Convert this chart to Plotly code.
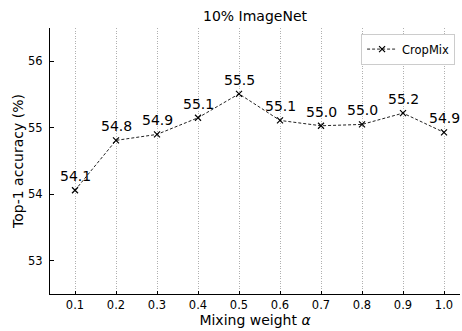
import plotly.graph_objects as go

alphas = [0.1, 0.2, 0.3, 0.4, 0.5, 0.6, 0.7, 0.8, 0.9, 1.0]
accuracy = [54.06, 54.81, 54.90, 55.15, 55.51, 55.11, 55.03, 55.05, 55.22, 54.93]
labels = ["54.1", "54.8", "54.9", "55.1", "55.5", "55.1", "55.0", "55.0", "55.2", "54.9"]
x_ticks = [0.1, 0.2, 0.3, 0.4, 0.5, 0.6, 0.7, 0.8, 0.9, 1.0]
x_tick_text = ["0.1", "0.2", "0.3", "0.4", "0.5", "0.6", "0.7", "0.8", "0.9", "1.0"]
y_ticks = [53, 54, 55, 56]

FONT = "DejaVu Sans"

fig = go.Figure()
fig.add_trace(go.Scatter(
    x=alphas, y=accuracy, mode="lines+markers", name="CropMix",
    line=dict(color="#222222", width=1, dash="3px,2px"),
    marker=dict(symbol="x-thin-open", size=6, color="black",
                line=dict(color="black", width=1.2)),
))

for xv, yv, t in zip(alphas, accuracy, labels):
    fig.add_annotation(x=xv, y=yv, text=t, showarrow=False, yanchor="bottom",
                       yshift=4, font=dict(family=FONT, size=14, color="black"))

fig.update_layout(
    width=462, height=331,
    margin=dict(l=50, r=2, t=28, b=37),
    plot_bgcolor="white", paper_bgcolor="white",
    font=dict(family=FONT, color="black"),
    title=dict(text="10% ImageNet", x=0.5, xanchor="center", xref="paper",
               y=1 - 16 / 331, yref="container", yanchor="middle",
               font=dict(family=FONT, size=14, color="black")),
    showlegend=True,
    legend=dict(x=0.988, y=0.979, xanchor="right", yanchor="top",
                bgcolor="white", bordercolor="#cccccc", borderwidth=1,
                font=dict(family=FONT, size=11.5, color="black"),
                itemwidth=30),
)

fig.update_xaxes(
    range=[0.039, 1.039], tickvals=x_ticks, ticktext=x_tick_text,
    showline=True, linecolor="black", linewidth=1.2,
    ticks="inside", ticklen=3, tickcolor="black",
    showgrid=True, gridcolor="#b0b0b0", griddash="1px,1.5px", gridwidth=1,
    zeroline=False, tickfont=dict(family=FONT, size=11.5, color="black"),
    title=dict(text="Mixing weight <i>α</i>", standoff=3,
               font=dict(family=FONT, size=14, color="black")),
)
fig.update_yaxes(
    range=[52.5, 56.5], tickvals=y_ticks,
    showline=True, linecolor="black", linewidth=1.2,
    ticks="inside", ticklen=4, tickcolor="black",
    showgrid=False, zeroline=False, ticklabelstandoff=4,
    tickfont=dict(family=FONT, size=11.5, color="black"),
    title=dict(text="Top-1 accuracy (%)", standoff=1,
               font=dict(family=FONT, size=14, color="black")),
)

fig.write_html("out.html", config={"displayModeBar": False},
               post_script="document.body.style.margin='0';")
